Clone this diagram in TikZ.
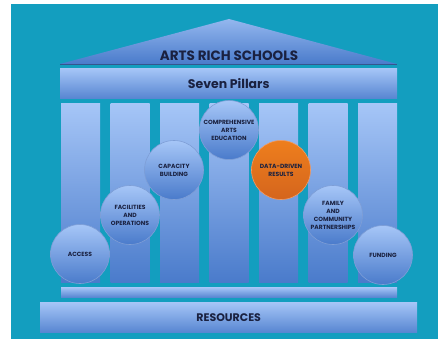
\documentclass[tikz,border=0pt]{standalone}
\usepackage{fontspec}
\setsansfont{Poppins}
\usetikzlibrary{positioning}
\definecolor{bgteal}{HTML}{139EBF}
\definecolor{paletop}{HTML}{A6C6F7}
\definecolor{deepblue}{HTML}{4A7BCB}
\definecolor{navytext}{HTML}{1A2140}
\definecolor{rimblue}{HTML}{7E9ED6}
\definecolor{dataorange}{HTML}{EC7020}

\begin{document}
\begin{tikzpicture}[
    x=1pt, y=-1pt,
    every node/.style={font=\sffamily\bfseries, text=navytext},
    pillar/.style={top color=paletop, bottom color=deepblue, minimum width=39pt, minimum height=179pt, anchor=north west, inner sep=0pt},
    band/.style={top color=paletop, bottom color=deepblue!85!paletop, anchor=north west, inner sep=0pt, font=\sffamily\bfseries\fontsize{12.5}{14}\selectfont},
    pillarcircle/.style={circle, draw=rimblue, line width=0.6pt, top color=paletop, bottom color=deepblue, minimum size=59pt, inner sep=0pt, align=center, font=\sffamily\bfseries\fontsize{6}{8}\selectfont},
    highlight/.style={top color=dataorange!90!yellow, bottom color=dataorange!90!black, draw=dataorange!70!white}
]
    \useasboundingbox (0,0) rectangle (438,339);
    \fill[bgteal] (11,4) rectangle (438,339);

    % roof
    \shade[top color=paletop!80!deepblue, bottom color=deepblue] (60,64) -- (229,19) -- (397,64) -- cycle;
    \draw[deepblue!70!black, line width=1.2pt] (60,64.5) -- (397,64.5);
    \node[font=\sffamily\bfseries\fontsize{13.5}{15}\selectfont] (title) at (229,56) {ARTS RICH SCHOOLS};

    % bands
    \node[band, minimum width=337pt, minimum height=30pt] (sevenband) at (60,68) {Seven Pillars};
    \foreach \i in {0,...,6}
        \node[pillar] (col\i) at ({61+49.5*\i},103) {};
    \node[band, minimum width=336pt, minimum height=10pt] (plinth) at (61,287) {};
    \node[band, minimum width=377pt, minimum height=30pt, font=\sffamily\bfseries\fontsize{11}{12}\selectfont] (resources) at (40,302) {RESOURCES};

    % the seven pillars
    \node[pillarcircle] (access) at (80,254) {ACCESS};
    \node[pillarcircle] (facilities) at (130,215) {FACILITIES\\AND\\OPERATIONS};
    \node[pillarcircle] (capacity) at (174,170) {CAPACITY\\BUILDING};
    \node[pillarcircle] (comprehensive) at (229,130) {COMPREHENSIVE\\ARTS\\EDUCATION};
    \node[pillarcircle, highlight] (datadriven) at (281,170) {DATA-DRIVEN\\RESULTS};
    \node[pillarcircle] (family) at (333,215) {FAMILY\\AND\\COMMUNITY\\PARTNERSHIPS};
    \node[pillarcircle] (funding) at (383,255) {FUNDING};
\end{tikzpicture}
\end{document}
